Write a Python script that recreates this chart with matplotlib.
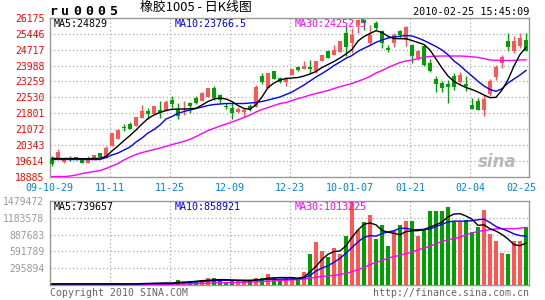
import numpy as np
import matplotlib
matplotlib.use('Agg')
import matplotlib.pyplot as plt

# ==== 資料 ====
date_labels = ['09-10-29', '11-11', '11-25', '12-09', '12-23', '10-01-07', '01-21', '02-04', '02-25']
date_idx = [0, 9, 19, 29, 39, 49, 59, 69, 79]

open_ = [19720, 19730, 19573, 19743, 19789, 19652, 19528, 19652, 19959, 19757,
         20308, 20616, 21154, 21292, 21213, 21567, 21916, 21751, 21949, 21903,
         22408, 21981, 21971, 22256, 22514, 22362, 22532, 22973, 22624, 22119,
         22027, 21843, 21870, 22146, 22100, 23524, 22973, 23754, 23396, 23235,
         23570, 23910, 23846, 23924, 23726, 24213, 24645, 24489, 24613, 25486,
         25026, 25840, 26097, 25026, 25945, 25564, 24797, 25026, 25592, 25178,
         24921, 24337, 24875, 24108, 23386, 23189, 23143, 23510, 23235, 23143,
         22164, 22376, 21962, 22684, 23451, 24108, 25132, 24645, 24875, 25178]
high = [19835, 20157, 19730, 19835, 19789, 19697, 19835, 19881, 19973, 20295,
        20892, 21076, 21292, 21397, 21627, 22178, 22027, 22132, 22362, 22408,
        22592, 22256, 22362, 22316, 22592, 22775, 22959, 23051, 22670, 22256,
        22256, 22100, 22027, 22210, 23097, 23635, 23635, 23754, 23465, 23465,
        23846, 23970, 24213, 24232, 24213, 24489, 24645, 24948, 25105, 25794,
        25716, 26152, 26097, 25867, 26037, 25638, 24921, 25486, 25638, 25794,
        24981, 24719, 24948, 24305, 23524, 23281, 23341, 23635, 23694, 23510,
        22500, 22500, 22624, 23373, 24030, 24489, 25486, 25334, 25486, 25486]
low = [19390, 19730, 19500, 19629, 19665, 19514, 19528, 19652, 19776, 19757,
       20295, 20616, 20984, 21076, 21213, 21567, 21535, 21751, 21595, 21903,
       22040, 21521, 21719, 21824, 22224, 22362, 22532, 22408, 22284, 21981,
       21521, 21824, 21613, 21916, 22100, 23143, 22973, 23373, 23189, 23051,
       23570, 23740, 23846, 23648, 23648, 24213, 24337, 24489, 24613, 24416,
       24567, 25486, 25624, 24935, 25624, 24797, 24599, 24829, 25256, 24889,
       24108, 24259, 23970, 23694, 22775, 22775, 22270, 22867, 23189, 22835,
       21994, 21962, 21659, 22592, 23341, 23878, 24645, 24567, 24797, 24645]
close = [19491, 20033, 19730, 19715, 19665, 19528, 19730, 19881, 19776, 20217,
         20878, 21030, 21122, 21076, 21613, 21916, 21765, 22132, 21797, 22330,
         22224, 21673, 22017, 22132, 22284, 22743, 22945, 22514, 22408, 22086,
         21824, 21994, 21949, 21981, 23019, 23249, 23635, 23373, 23235, 23373,
         23846, 23772, 23956, 23832, 24213, 24489, 24337, 24719, 25105, 24829,
         25408, 26097, 25945, 25380, 25716, 25026, 24719, 25408, 25380, 25748,
         24416, 24645, 24030, 23754, 23157, 22959, 22991, 23005, 23556, 23074,
         22008, 21962, 22454, 23295, 23910, 24370, 24829, 25132, 25256, 24673]

ma5 = [19730, 19720, 19720, 19720, 19720, 19711, 19711, 19720, 19734, 19812,
       20065, 20295, 20547, 20777, 21030, 21305, 21558, 21719, 21834, 21926,
       21981, 21994, 21994, 22004, 22027, 22178, 22339, 22454, 22500, 22454,
       22339, 22155, 22017, 21981, 22201, 22546, 22982, 23189, 23327, 23396,
       23419, 23442, 23510, 23602, 23717, 23901, 24039, 24177, 24337, 24521,
       24728, 25118, 25325, 25463, 25592, 25509, 25334, 25233, 25224, 25224,
       25141, 25049, 24958, 24705, 24291, 23878, 23510, 23258, 23111, 22982,
       22890, 22775, 22638, 22514, 22532, 22867, 23341, 23970, 24498, 24829]
ma10 = [19675, 19675, 19675, 19675, 19675, 19675, 19675, 19675, 19675, 19766,
        19881, 19973, 20111, 20249, 20478, 20662, 20892, 21053, 21259, 21535,
        21650, 21797, 21880, 21949, 22017, 22086, 22155, 22201, 22224, 22247,
        22247, 22247, 22247, 22270, 22293, 22339, 22408, 22477, 22546, 22661,
        22775, 22936, 23097, 23281, 23465, 23625, 23800, 23993, 24154, 24324,
        24452, 24645, 24783, 24912, 25059, 25164, 25256, 25302, 25339, 25371,
        25348, 25256, 25141, 25004, 24866, 24705, 24489, 24200, 23993, 23740,
        23510, 23267, 23051, 22890, 22808, 22927, 23189, 23373, 23556, 23766.5]
ma30 = [18890, 18890, 18890, 18916, 18962, 19031, 19077, 19123, 19169, 19261,
        19376, 19491, 19652, 19789, 19904, 19996, 20065, 20134, 20203, 20281,
        20364, 20432, 20511, 20602, 20731, 20869, 21007, 21108, 21213, 21305,
        21397, 21503, 21604, 21719, 21857, 21971, 22063, 22155, 22247, 22293,
        22385, 22477, 22546, 22638, 22707, 22775, 22844, 22936, 23019, 23097,
        23166, 23267, 23373, 23488, 23648, 23763, 23901, 24016, 24131, 24200,
        24246, 24305, 24370, 24406, 24420, 24429, 24429, 24429, 24429, 24416,
        24393, 24360, 24314, 24246, 24232, 24223, 24223, 24223, 24246, 24252.5]

volume = [18000, 22000, 15000, 14000, 16000, 15000, 17000, 18000, 20000, 24000,
          30000, 28000, 22000, 20000, 26000, 42000, 40000, 30000, 42000, 38000,
          25000, 88000, 60000, 70000, 68000, 93000, 123000, 123000, 76000, 53000,
          65000, 93000, 93000, 65000, 123000, 123000, 194000, 123000, 93000, 123000,
          123000, 123000, 229000, 546000, 757000, 605000, 487000, 652000, 546000, 869000,
          1479472, 975000, 1110000, 1239000, 810000, 1063000, 693000, 945000, 1063000, 1121000,
          1121000, 869000, 975000, 1309000, 1309000, 1309000, 1374000, 1110000, 1110000, 1151000,
          940000, 1030000, 1327000, 898000, 769000, 564000, 546000, 781000, 781000, 1016000]
vma5 = [18000] * 15 + [22000, 26000, 30000, 33000, 36000,
        35000, 45000, 52000, 56000, 66000, 76000, 83000, 91000, 95000, 94000,
        88000, 82000, 76000, 74000, 88000, 99000, 120000, 126000, 131000, 131000,
        131000, 119000, 140000, 230000, 330000, 450000, 540000, 590000, 600000, 690000,
        840000, 970000, 1070000, 1092000, 1060000, 960000, 930000, 910000, 886000, 940000,
        955000, 957000, 975000, 1020000, 1060000, 1110000, 1200000, 1250000, 1256000, 1215000,
        1160000, 1050000, 1060000, 990000, 950000, 890000, 810000, 710000, 693000, 739657]
vma10 = [18000] * 15 + [25000, 25000, 25000, 25000, 25000,
         25000, 32000, 38000, 45000, 55000, 62000, 70000, 76000, 80000, 82000,
         82000, 84000, 85000, 85000, 88000, 92000, 100000, 100000, 103000, 105000,
         108000, 112000, 125000, 170000, 245000, 300000, 340000, 400000, 470000, 560000,
         660000, 760000, 840000, 870000, 860000, 905000, 935000, 955000, 1000000, 1000000,
         975000, 975000, 980000, 986000, 1030000, 1070000, 1110000, 1125000, 1125000, 1125000,
         1133000, 1150000, 1160000, 1100000, 1030000, 990000, 950000, 900000, 870000, 858921]
vma30 = [12000] * 20 + [14000, 16000, 18000, 20000, 24000, 28000, 32000, 36000, 38000, 40000,
         42000, 45000, 48000, 52000, 56000, 62000, 68000, 74000, 80000, 86000,
         90000, 94000, 105000, 120000, 135000, 150000, 160000, 168000, 185000, 205000,
         235000, 270000, 310000, 358000, 400000, 430000, 476000, 500000, 523000, 555000,
         580000, 620000, 650000, 682000, 730000, 765000, 798000, 820000, 840000, 885000,
         915000, 945000, 960000, 975000, 990000, 992000, 992000, 992000, 1000000, 1013225]

price_ticks = [26175, 25446, 24717, 23988, 23259, 22530, 21801, 21072, 20343, 19614, 18885]
vol_ticks = [295894, 591789, 887683, 1183578, 1479472]

# ==== 樣式 ====
RED = '#ff5555'
GREEN = '#00a000'
GRID = '#aaaaaa'
MONO = 'DejaVu Sans Mono'
W, H = 545, 300


def fx(px):
    return px / W


def fy(py):
    return 1 - py / H


o = np.array(open_, dtype=float)
c = np.array(close, dtype=float)
x = np.arange(len(c))
cols = np.where(c >= o, RED, GREEN)

fig = plt.figure(figsize=(5.45, 3.0), dpi=100)
fig.patch.set_facecolor('white')
ax = fig.add_axes([fx(50), fy(176.7), fx(529) - fx(50), fy(18) - fy(176.7)])
axv = fig.add_axes([fx(50), fy(285), fx(529) - fx(50), fy(201) - fy(285)])

for a in (ax, axv):
    a.set_xlim(-1 / 3, 79.5)
    a.set_xticks([])
    for s in a.spines.values():
        s.set_color('#999999')
        s.set_linewidth(1)
    a.tick_params(axis='y', length=0, pad=4)
    for d in date_idx[1:-1]:
        a.axvline(d + 2 / 3, color=GRID, lw=0.9, ls=(0, (1, 2)), zorder=1)

# ==== K線 ====
ax.set_ylim(price_ticks[-1], price_ticks[0])
for t in price_ticks[1:-1]:
    ax.axhline(t, color=GRID, lw=0.9, ls=(0, (1, 2)), zorder=1)
ax.vlines(x, low, high, colors=cols, lw=1, zorder=3)
ax.bar(x, np.maximum(np.abs(c - o), 25), bottom=np.minimum(o, c), width=0.82,
       color=cols, lw=0, zorder=4)
ax.plot(x, ma30, color='#ff00ff', lw=1, zorder=5)
ax.plot(x, ma10, color='#0000ff', lw=1, zorder=5)
ax.plot(x, ma5, color='black', lw=1, zorder=6)
ax.set_yticks(price_ticks)
ax.set_yticklabels([str(t) for t in price_ticks], color='red', family=MONO, fontsize=7)

xt = ax.get_xaxis_transform()
for i, (d, lab) in enumerate(zip(date_idx, date_labels)):
    if i == 0:
        ax.text(d - 0.5, -0.071, lab, transform=xt, ha='center', va='center',
                color='#0a7fd0', family=MONO, fontsize=7.2)
    elif i == len(date_idx) - 1:
        ax.text(d + 1.67, -0.071, lab, transform=xt, ha='right', va='center',
                color='#0a7fd0', family=MONO, fontsize=7.2)
    else:
        ax.text(d + 2 / 3, -0.071, lab, transform=xt, ha='center', va='center',
                color='#0a7fd0', family=MONO, fontsize=7.2)

ax.text(0.975, 0.09, 'sina', transform=ax.transAxes, ha='right', va='center',
        color='#b8b8b8', fontsize=12, fontstyle='italic', fontweight='bold', zorder=2)

# ==== 成交量 ====
axv.set_ylim(0, vol_ticks[-1])
for t in vol_ticks[:-1]:
    axv.axhline(t, color=GRID, lw=0.9, ls=(0, (1, 2)), zorder=1)
axv.bar(x, volume, width=0.82, color=cols, lw=0, zorder=3)
axv.plot(x, vma30, color='#ff00ff', lw=1, zorder=5)
axv.plot(x, vma10, color='#0000ff', lw=1, zorder=5)
axv.plot(x, vma5, color='black', lw=1, zorder=6)
axv.set_yticks(vol_ticks)
axv.set_yticklabels([str(t) for t in vol_ticks], color='#999999', family=MONO, fontsize=7)

# ==== 文字 ====
for k, ch in enumerate('ru0005'):
    fig.text(fx(53 + 12 * k), fy(11.7), ch, ha='center', va='center',
             family=MONO, fontweight='bold', fontsize=9.5)
fig.text(fx(140), fy(7.5), '橡胶1005 - 日K线图', ha='left', va='center', fontsize=9.3,
         family=['Noto Sans CJK SC', 'DejaVu Sans'])
fig.text(fx(529), fy(12), '2010-02-25 15:45:09', ha='right', va='center',
         family=MONO, fontsize=7.3)

leg = [(54, 'MA5:24829', 'black'), (175, 'MA10:23766.5', '#0000ff'), (295, 'MA30:24252.5', '#ff00ff')]
for px, txt, col in leg:
    fig.text(fx(px), fy(23.7), txt, ha='left', va='center', color=col, family=MONO, fontsize=7.2,
             zorder=0)
vleg = [(54, 'MA5:739657', 'black'), (175, 'MA10:858921', '#0000ff'), (295, 'MA30:1013225', '#ff00ff')]
for px, txt, col in vleg:
    fig.text(fx(px), fy(206.7), txt, ha='left', va='center', color=col, family=MONO, fontsize=7.2,
             zorder=0)

fig.text(fx(50), fy(292.5), 'Copyright 2010 SINA.COM', ha='left', va='center',
         color='#666666', family=MONO, fontsize=7.1)
fig.text(fx(529), fy(292.5), 'http://finance.sina.com.cn', ha='right', va='center',
         color='#666666', family=MONO, fontsize=7.1)

fig.savefig('out.png', dpi=100)
